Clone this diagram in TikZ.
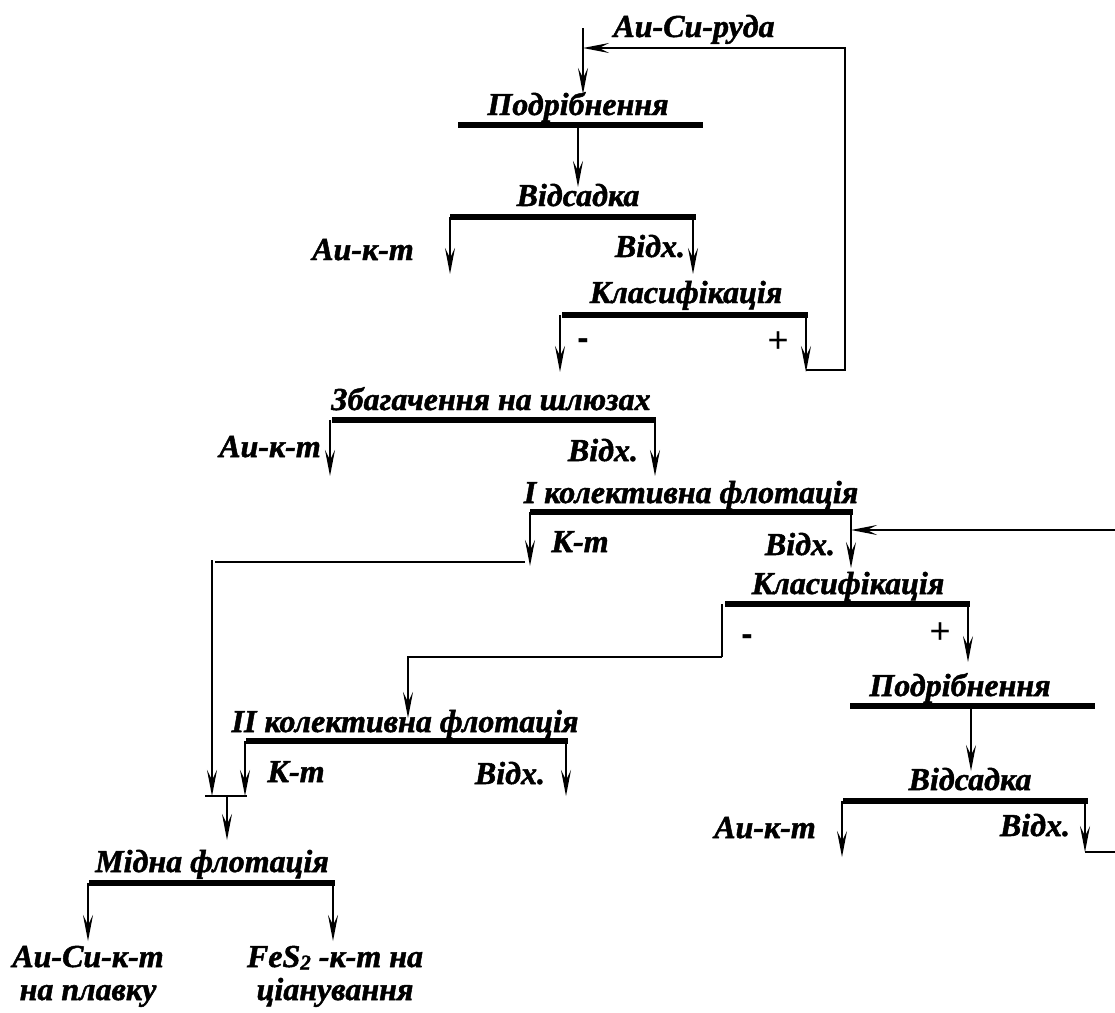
\documentclass[tikz,border=0pt]{standalone}
\usepackage{fontspec}
\setmainfont[BoldItalicFeatures={FakeBold=1.5}]{Liberation Serif}
\newfontfamily\signfont{Liberation Sans}
\usetikzlibrary{arrows.meta}
\begin{document}
\begin{tikzpicture}[x=1pt,y=-1pt,
  bar/.style={line width=5.5pt},
  ln/.style={line width=1.8pt},
  arr/.style={line width=1.8pt,-{Stealth[length=26pt,width=10pt,inset=10pt]}},
  ttl/.style={font=\fontsize{32}{33}\selectfont\bfseries\itshape, inner sep=0pt, anchor=base},
  lbl/.style={font=\fontsize{32}{33}\selectfont\bfseries\itshape, inner sep=0pt, anchor=base},
  sgn/.style={font=\fontsize{36}{38}\selectfont\signfont, inner sep=0pt},
  sgnm/.style={font=\fontsize{34}{36}\selectfont\signfont\bfseries, inner sep=0pt}
]
\useasboundingbox (0,0) rectangle (1115,1012);

% ---------- feed
\node[lbl] (ore) at (694,37) {Au-Cu-руда};
\coordinate (feedtop) at (583,28);
\coordinate (feedin) at (583,48);
\coordinate (p1in) at (583,94);
\draw[arr] (feedtop) -- (p1in);

% ---------- 1 Подрібнення
\coordinate (b1l) at (458,125); \coordinate (b1r) at (703,125);
\draw[bar] (b1l) -- (b1r);
\node[ttl] (p1) at (578,115) {Подрібнення};
\coordinate (b1o) at (578,125);
\coordinate (p2in) at (578,187);
\draw[arr] (b1o) -- (p2in);

% ---------- 2 Відсадка
\coordinate (b2l) at (450,217); \coordinate (b2r) at (696,217);
\draw[bar] (b2l) -- (b2r);
\node[ttl] (p2) at (578,206) {Відсадка};
\coordinate (o2a) at (450,274); \coordinate (o2b) at (693,274);
\draw[arr] (450,217) -- (o2a);
\draw[arr] (693,217) -- (o2b);
\node[lbl] (l2a) at (363,260) {Au-к-т};
\node[lbl] (l2b) at (650,257) {Відх.};

% ---------- 3 Класифікація
\coordinate (b3l) at (562,315); \coordinate (b3r) at (808,315);
\draw[bar] (b3l) -- (b3r);
\node[ttl] (p3) at (686,303) {Класифікація};
\coordinate (o3a) at (560,372); \coordinate (o3b) at (806,372);
\draw[arr] (560,315) -- (o3a);
\draw[arr] (806,315) -- (o3b);
\node[sgnm] (m3) at (583,344) {-};
\node[sgn] (pl3) at (778,342) {+};
% recycle of oversize
\draw[arr] (806,370) -- (845,370) -- (845,48) -- (feedin);

% ---------- 4 Збагачення на шлюзах
\coordinate (b4l) at (332,420); \coordinate (b4r) at (656,420);
\draw[bar] (b4l) -- (b4r);
\node[ttl] (p4) at (491,410) {Збагачення на шлюзах};
\coordinate (o4a) at (330,476); \coordinate (o4b) at (655,476);
\draw[arr] (330,420) -- (o4a);
\draw[arr] (655,420) -- (o4b);
\node[lbl] (l4a) at (270,457) {Au-к-т};
\node[lbl] (l4b) at (603,461) {Відх.};

% ---------- 5 I колективна флотація
\coordinate (b5l) at (530,512); \coordinate (b5r) at (853,512);
\draw[bar] (b5l) -- (b5r);
\node[ttl] (p5) at (691,503) {I колективна флотація};
\coordinate (o5a) at (530,566); \coordinate (o5b) at (851,568);
\draw[arr] (530,512) -- (o5a);
\draw[arr] (851,512) -- (o5b);
\node[lbl] (l5a) at (580,552) {К-т};
\node[lbl] (l5b) at (800,555) {Відх.};
% return from right
\coordinate (ret) at (1115,530);
\draw[arr] (ret) -- (851,530);
% concentrate to mixing
\coordinate (k1) at (525,562);
\coordinate (mixL) at (212,796);
\draw[ln] (k1) -- (215,562);
\draw[arr] (212,560) -- (mixL);

% ---------- 6 Класифікація
\coordinate (b6l) at (725,604); \coordinate (b6r) at (970,604);
\draw[bar] (b6l) -- (b6r);
\node[ttl] (p6) at (848,594) {Класифікація};
\coordinate (o6b) at (968,662);
\draw[ln] (722,604) -- (722,657);
\draw[arr] (968,604) -- (o6b);
\node[sgnm] (m6) at (747,640) {-};
\node[sgn] (pl6) at (940,633) {+};
\coordinate (p9in) at (408,718);
\draw[arr] (722,657) -- (408,657) -- (p9in);

% ---------- 7 Подрібнення
\coordinate (b7l) at (850,706); \coordinate (b7r) at (1095,706);
\draw[bar] (b7l) -- (b7r);
\node[ttl] (p7) at (960,696) {Подрібнення};
\coordinate (p8in) at (971,771);
\draw[arr] (971,706) -- (p8in);

% ---------- 8 Відсадка
\coordinate (b8l) at (843,801); \coordinate (b8r) at (1088,801);
\draw[bar] (b8l) -- (b8r);
\node[ttl] (p8) at (970,790) {Відсадка};
\coordinate (o8a) at (842,857); \coordinate (o8b) at (1085,852);
\draw[arr] (842,801) -- (o8a);
\draw[arr] (1085,801) -- (o8b);
\node[lbl] (l8a) at (765,838) {Au-к-т};
\node[lbl] (l8b) at (1035,836) {Відх.};
\coordinate (retout) at (1115,852);
\draw[ln] (1085,852) -- (retout);

% ---------- 9 II колективна флотація
\coordinate (b9l) at (246,741); \coordinate (b9r) at (568,741);
\draw[bar] (b9l) -- (b9r);
\node[ttl] (p9) at (405,732) {II колективна флотація};
\coordinate (mixR) at (245,796); \coordinate (o9b) at (566,796);
\draw[arr] (245,741) -- (mixR);
\draw[arr] (566,741) -- (o9b);
\node[lbl] (l9a) at (296,782) {К-т};
\node[lbl] (l9b) at (510,784) {Відх.};

% ---------- mixing
\coordinate (mixA) at (205,796); \coordinate (mixB) at (247,796);
\draw[ln] (mixA) -- (mixB);
\coordinate (p10in) at (227,840);
\draw[arr] (227,796) -- (p10in);

% ---------- 10 Мідна флотація
\coordinate (b10l) at (89,883); \coordinate (b10r) at (335,883);
\draw[bar] (b10l) -- (b10r);
\node[ttl] (p10) at (212,872) {Мідна флотація};
\coordinate (o10a) at (88,941); \coordinate (o10b) at (333,941);
\draw[arr] (88,883) -- (o10a);
\draw[arr] (333,883) -- (o10b);
\node[lbl] (l10a) at (88,967) {Au-Cu-к-т};
\node[lbl] (l10a2) at (88,1000) {на плавку};
\node[lbl] (l10b) at (335,967) {FeS\raisebox{-2.5pt}{\fontsize{21}{21}\selectfont 2} -к-т на};
\node[lbl] (l10b2) at (335,1000) {ціанування};
\end{tikzpicture}
\end{document}
